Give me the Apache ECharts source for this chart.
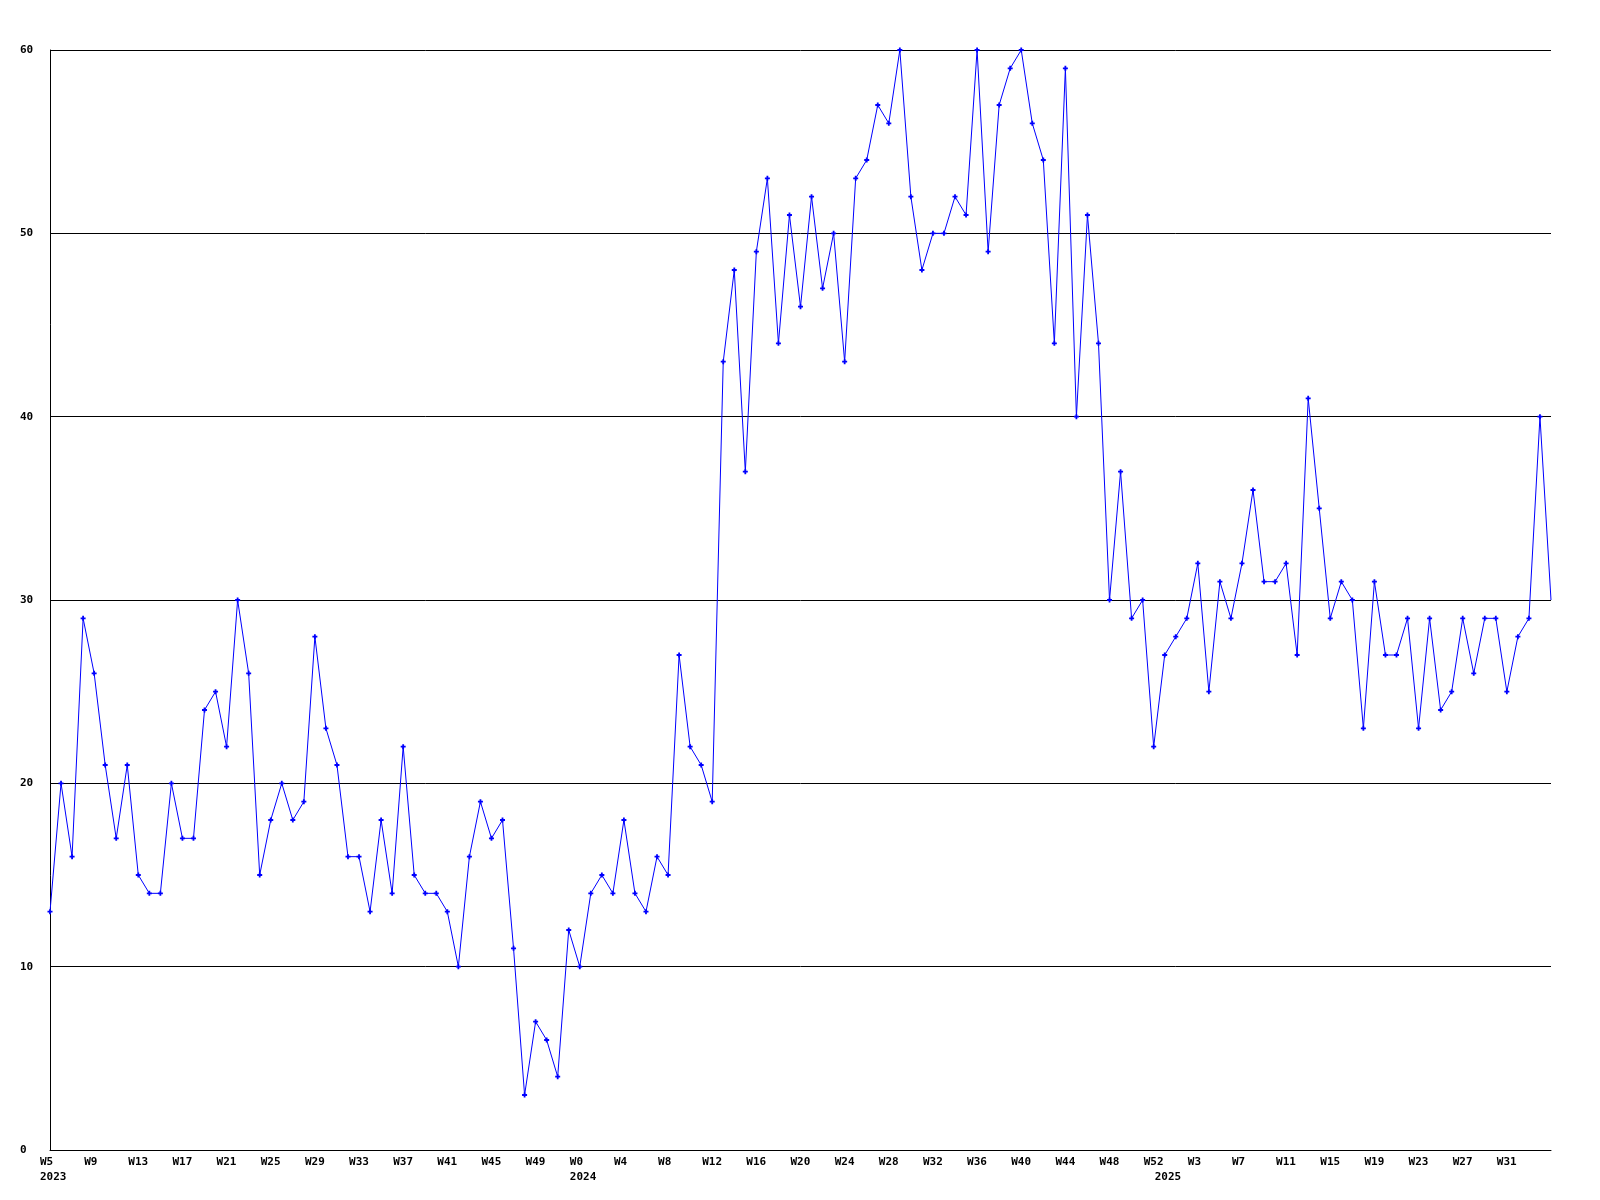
<!DOCTYPE html>
<html>
<head>
<meta charset="utf-8">
<script src="https://cdn.jsdelivr.net/npm/echarts@6/dist/echarts.min.js"></script>
<style>
  html, body { margin: 0; padding: 0; background: #fff; }
  #chart { width: 1600px; height: 1200px; }
</style>
</head>
<body>
<div id="chart"></div>
<script>
// ---- Data ----
const weekRanges = [
  ['2023', 5, 52],
  ['2024', 0, 52],
  ['2025', 0, 35]
];
const values2023 = [13, 20, 16, 29, 26, 21, 17, 21, 15, 14,
                    14, 20, 17, 17, 24, 25, 22, 30, 26, 15,
                    18, 20, 18, 19, 28, 23, 21, 16, 16, 13,
                    18, 14, 22, 15, 14, 14, 13, 10, 16, 19,
                    17, 18, 11, 3, 7, 6, 4, 12];
const values2024 = [10, 14, 15, 14, 18, 14, 13, 16, 15, 27,
                    22, 21, 19, 43, 48, 37, 49, 53, 44, 51,
                    46, 52, 47, 50, 43, 53, 54, 57, 56, 60,
                    52, 48, 50, 50, 52, 51, 60, 49, 57, 59,
                    60, 56, 54, 44, 59, 40, 51, 44, 30, 37,
                    29, 30, 22];
const values2025 = [27, 28, 29, 32, 25, 31, 29, 32, 36, 31,
                    31, 32, 27, 41, 35, 29, 31, 30, 23, 31,
                    27, 27, 29, 23, 29, 24, 25, 29, 26, 29,
                    29, 25, 28, 29, 40, 30];
const yTicks = [0, 10, 20, 30, 40, 50, 60];

// ---- Build categories ----
const categories = [];
const yearStart = {};
weekRanges.forEach(([y, a, b]) => {
  yearStart[categories.length] = y;
  for (let w = a; w <= b; w++) categories.push(y + '-W' + w);
});
const values = values2023.concat(values2024, values2025);
const lastIndex = values.length - 1;

const FONT = '"DejaVu Sans Mono", "Liberation Mono", monospace';
const plusPath = 'path://M1.6,0H3.4V1.6H5V3.4H3.4V5H1.6V3.4H0V1.6H1.6Z';

const chart = echarts.init(document.getElementById('chart'), null, { renderer: 'canvas' });
chart.setOption({
  animation: false,
  backgroundColor: '#ffffff',
  grid: { left: 50, right: 49, top: 50, bottom: 50, containLabel: false },
  xAxis: [
    {
      type: 'category',
      data: categories,
      boundaryGap: false,
      position: 'bottom',
      axisLine: { show: true, onZero: false, lineStyle: { color: '#000', width: 1 } },
      axisTick: { show: false },
      splitLine: { show: false },
      axisLabel: {
        interval: (idx) => idx % 4 === 0 && idx < lastIndex,
        margin: 7,
        align: 'center',
        formatter: v => '{a|' + v.split('-')[1] + '}',
        rich: {
          a: { width: 20, align: 'left', fontFamily: FONT, fontWeight: 'bold', fontSize: 11, color: '#000' }
        }
      }
    },
    {
      type: 'category',
      data: categories,
      boundaryGap: false,
      position: 'bottom',
      axisLine: { show: false },
      axisTick: { show: false },
      splitLine: { show: false },
      axisLabel: {
        interval: (idx) => yearStart.hasOwnProperty(idx),
        margin: 22,
        align: 'center',
        formatter: (v) => '{a|' + v.split('-')[0] + '}',
        rich: {
          a: { width: 20, align: 'left', fontFamily: FONT, fontWeight: 'bold', fontSize: 11, color: '#000' }
        }
      }
    }
  ],
  yAxis: {
    type: 'value',
    min: yTicks[0],
    max: yTicks[yTicks.length - 1],
    interval: 10,
    axisLine: { show: true, lineStyle: { color: '#000', width: 1 } },
    axisTick: { show: false },
    splitLine: { show: true, lineStyle: { color: '#000', width: 1 } },
    axisLabel: {
      margin: 30,
      align: 'left',
      fontFamily: FONT,
      fontWeight: 'bold',
      fontSize: 11,
      color: '#000'
    }
  },
  series: [
    {
      type: 'line',
      xAxisIndex: 0,
      data: values,
      color: '#0000ff',
      showAllSymbol: true,
      symbol: (val, params) => params.dataIndex === lastIndex ? 'none' : plusPath,
      symbolSize: 5,
      itemStyle: { color: '#0000ff' },
      lineStyle: { color: '#0000ff', width: 1 },
      emphasis: { disabled: true },
      clip: false
    }
  ]
});
</script>
</body>
</html>
